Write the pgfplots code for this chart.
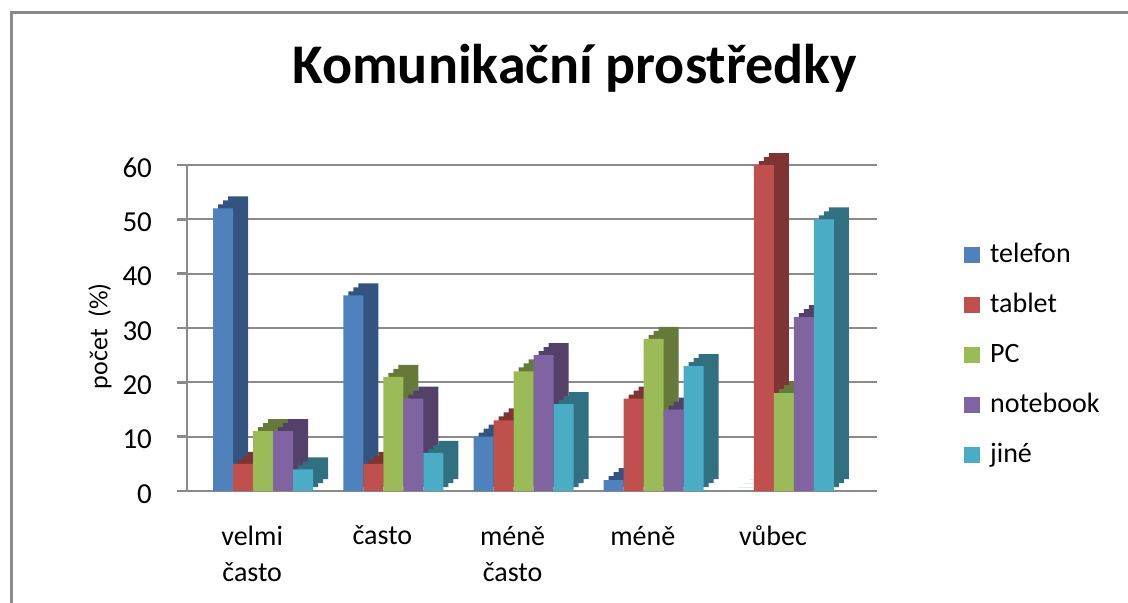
\documentclass[border=0pt]{standalone}
\usepackage{fontspec}
\setmainfont{Carlito}
\usepackage{pgfplots}
\pgfplotsset{compat=1.18}
\usepackage{pgfplotstable}

% Excel 2007 palette + darker side faces
\definecolor{cTel}{HTML}{4F81BD}\definecolor{dTel}{HTML}{335480}
\definecolor{cTab}{HTML}{C0504D}\definecolor{dTab}{HTML}{7D3432}
\definecolor{cPC}{HTML}{9BBB59}\definecolor{dPC}{HTML}{65793A}
\definecolor{cNb}{HTML}{8064A2}\definecolor{dNb}{HTML}{534169}
\definecolor{cJi}{HTML}{4BACC6}\definecolor{dJi}{HTML}{317081}
\definecolor{gridgray}{HTML}{8A8A8A}

\pgfplotstableread{
x telefon tablet pc notebook jine
0 52 5  11 11 4
1 36 5  21 17 7
2 10 13 22 25 16
3 2  17 28 15 23
4 0  60 18 32 50
}\data

% darker copies behind each bar give the depth of the 3D look
\newcommand{\depth}[3]{%
  \addplot[forget plot, fill=#2, draw=none, bar shift=#3, xshift=2.5pt, yshift=2pt] table[x=x,y=#1]{\data};
  \addplot[forget plot, fill=#2, draw=none, bar shift=#3, xshift=5pt, yshift=4pt] table[x=x,y=#1]{\data};
  \addplot[forget plot, fill=#2, draw=none, bar shift=#3, xshift=7.5pt, yshift=6pt] table[x=x,y=#1]{\data};
}

\begin{document}
\begin{tikzpicture}
\path[use as bounding box] (0,0) rectangle (564pt,301pt);
\draw[gridgray, line width=1.5pt] (5.5pt,-1pt) -- (5.5pt,295pt) -- (565pt,295pt);
\begin{axis}[
    at={(93.5pt,55.5pt)}, anchor=south west,
    scale only axis,
    width=345pt, height=163pt,
    ybar, bar width=10pt,
    clip=false,
    xmin=-0.585, xmax=4.715,
    ymin=0, ymax=60,
    ytick={0,10,...,60},
    xtick={0,1,2,3,4},
    xticklabels={velmi\\často, často, méně\\často, méně, vůbec},
    axis y line*=left, axis x line*=bottom,
    axis line style={gridgray, line width=1.2pt, -},
    ymajorgrids,
    grid style={gridgray, line width=1pt},
    tick align=outside,
    major tick length=5pt,
    ytick style={gridgray, line width=1.2pt},
    xtick style={draw=none},
    /pgf/number format/assume math mode=true,
    yticklabel style={font=\fontsize{14.5}{16}\selectfont, xshift=-9pt, yshift=-1.5pt},
    xticklabel style={font=\fontsize{14}{18}\selectfont, align=center, anchor=north, yshift=-9pt, xshift=-5.5pt},
    title={Komunikační prostředky},
    title style={font=\fontsize{28}{34}\selectfont\bfseries, at={(axis description cs:0.562,1.212)}, anchor=base},
    ylabel={počet\ \ (\%)},
    ylabel style={font=\fontsize{13}{15}\selectfont, at={(axis description cs:-0.126,0.475)}, anchor=center},
    legend image code/.code={\fill[#1] (0pt,-4pt) rectangle (8pt,4pt);},
    legend style={at={(axis description cs:1.117,0.776)}, anchor=north west, draw=none, fill=none,
        font=\fontsize{14}{16}\selectfont, row sep=12pt, column sep=5pt,
        nodes={inner sep=0pt, text height=10pt, text depth=3pt}},
    legend cell align=left,
]
\depth{telefon}{dTel}{-20pt}
\addplot[fill=cTel, draw=none, bar shift=-20pt] table[x=x,y=telefon]{\data};
\addlegendentry{telefon}
\depth{tablet}{dTab}{-10pt}
\addplot[fill=cTab, draw=none, bar shift=-10pt] table[x=x,y=tablet]{\data};
\addlegendentry{tablet}
\depth{pc}{dPC}{0pt}
\addplot[fill=cPC, draw=none, bar shift=0pt] table[x=x,y=pc]{\data};
\addlegendentry{PC}
\depth{notebook}{dNb}{10pt}
\addplot[fill=cNb, draw=none, bar shift=10pt] table[x=x,y=notebook]{\data};
\addlegendentry{notebook}
\depth{jine}{dJi}{20pt}
\addplot[fill=cJi, draw=none, bar shift=20pt] table[x=x,y=jine]{\data};
\addlegendentry{jiné}
\end{axis}
\end{tikzpicture}
\end{document}
